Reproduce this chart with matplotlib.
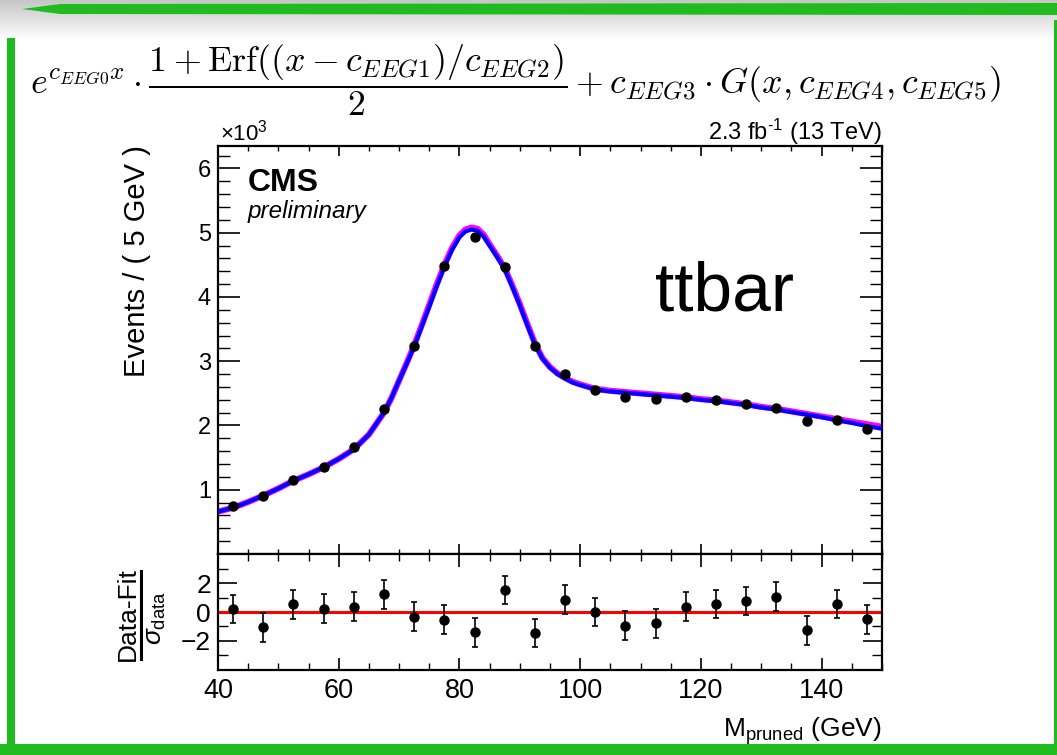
import numpy as np
import matplotlib
matplotlib.use("Agg")
import matplotlib.pyplot as plt
from matplotlib.ticker import MultipleLocator, FixedLocator

# ---------------- data ----------------
bin_centers = [42.5, 47.5, 52.5, 57.5, 62.5, 67.5, 72.5, 77.5, 82.5, 87.5, 92.5,
               97.5, 102.5, 107.5, 112.5, 117.5, 122.5, 127.5, 132.5, 137.5, 142.5, 147.5]
events_k = [0.74, 0.895, 1.15, 1.36, 1.66, 2.25, 3.23, 4.48, 4.93, 4.46, 3.24,
            2.80, 2.55, 2.45, 2.42, 2.44, 2.39, 2.34, 2.27, 2.07, 2.09, 1.95]

fit_x = [40.0, 42.5, 45.0, 47.5, 50.0, 52.5, 55.0, 57.5, 60.0, 62.5, 65.0, 67.5,
         68.75, 70.0, 71.25, 72.5, 73.75, 75.0, 76.25, 77.5, 78.75, 80.0, 81.0,
         82.0, 83.0, 84.0, 85.0, 86.25, 87.5, 88.75, 90.0, 91.25, 92.5, 93.75,
         95.0, 96.25, 97.5, 98.75, 100.0, 102.5, 105.0, 107.5, 110.0, 112.5,
         115.0, 117.5, 120.0, 122.5, 125.0, 127.5, 130.0, 132.5, 135.0, 137.5,
         140.0, 142.5, 145.0, 147.5, 150.0]
fit_blue_k = [0.66, 0.72, 0.81, 0.91, 1.02, 1.14, 1.24, 1.35, 1.48, 1.63, 1.86, 2.20,
              2.43, 2.70, 2.96, 3.23, 3.54, 3.85, 4.17, 4.47, 4.73, 4.93, 5.02,
              5.05, 5.03, 4.94, 4.80, 4.62, 4.43, 4.16, 3.87, 3.56, 3.26, 3.04,
              2.90, 2.80, 2.73, 2.67, 2.63, 2.56, 2.53, 2.51, 2.49, 2.47,
              2.45, 2.43, 2.40, 2.38, 2.35, 2.32, 2.28, 2.25, 2.21, 2.17,
              2.13, 2.08, 2.04, 1.99, 1.95]
fit_magenta_k = [0.66, 0.72, 0.81, 0.91, 1.02, 1.14, 1.24, 1.35, 1.48, 1.63, 1.86, 2.20,
                 2.43, 2.70, 2.97, 3.25, 3.56, 3.88, 4.20, 4.50, 4.76, 4.96, 5.05,
                 5.08, 5.06, 4.97, 4.82, 4.64, 4.45, 4.18, 3.89, 3.58, 3.28, 3.05,
                 2.91, 2.81, 2.74, 2.68, 2.64, 2.57, 2.54, 2.52, 2.50, 2.48,
                 2.46, 2.44, 2.41, 2.39, 2.36, 2.33, 2.29, 2.26, 2.22, 2.18,
                 2.14, 2.10, 2.06, 2.02, 1.98]

pulls = [0.21, -1.07, 0.53, 0.23, 0.37, 1.23, -0.33, -0.53, -1.42, 1.53, -1.47,
         0.86, 0.00, -0.95, -0.79, 0.37, 0.56, 0.77, 1.07, -1.28, 0.56, -0.51]
pull_err = [1.0] * len(pulls)

x_major_ticks = [40, 60, 80, 100, 120, 140]
y_main_ticks = [1, 2, 3, 4, 5, 6]
y_pull_ticks = [-2, 0, 2]

# ---------------- style ----------------
FONT = "Liberation Sans"
plt.rcParams['font.family'] = [FONT, 'DejaVu Sans']
plt.rcParams['mathtext.fontset'] = 'custom'
plt.rcParams['mathtext.rm'] = FONT
plt.rcParams['mathtext.it'] = FONT + ':italic'
plt.rcParams['mathtext.bf'] = FONT + ':bold'
plt.rcParams['mathtext.sf'] = FONT

W, H = 1057, 755
fig = plt.figure(figsize=(W / 100, H / 100), dpi=100)
fig.patch.set_facecolor('white')

def fx(px):
    return px / W

def fy(py):
    return 1 - py / H

# background decoration (slide frame)
bg = fig.add_axes([0, 0, 1, 1], zorder=-10)
bg.set_xlim(0, W)
bg.set_ylim(H, 0)
bg.axis('off')
grad = np.linspace(0.72, 1.0, 40).reshape(-1, 1)
bg.imshow(np.repeat(grad, 2, axis=1), cmap='gray', vmin=0, vmax=1,
          extent=[0, W, 40, 0], aspect='auto', alpha=0.8)
green = '#1fbb1f'
bg.fill([22, 60, W, W, 60], [9, 4, 3, 15, 14], color=green, lw=0)
bg.add_patch(plt.Rectangle((7, 38), 8, H - 38, color=green, lw=0))
bg.add_patch(plt.Rectangle((0, 744), W, 11, color=green, lw=0))
bg.add_patch(plt.Rectangle((1054, 20), 3, H - 20, color=green, lw=0))
bg.add_patch(plt.Rectangle((15, 40), 1039, 704, color='white', lw=0))

# axes geometry
L, R = 218, 882
T, MB, PB = 146, 554, 670
ax = fig.add_axes([fx(L), fy(MB), fx(R - L), fy(T) - fy(MB)])
axr = fig.add_axes([fx(L), fy(PB), fx(R - L), fy(MB) - fy(PB)], sharex=ax)

# main
ax.plot(fit_x, fit_magenta_k, color='#ff00ff', lw=4.4, zorder=2, solid_capstyle='butt')
ax.plot(fit_x, fit_blue_k, color='#0000ff', lw=3.0, zorder=3, solid_capstyle='butt')
ax.plot(bin_centers, events_k, 'o', color='black', ms=6.5, zorder=4)
ax.set_xlim(40, 150)
ax.set_ylim(0, 6.35)
ax.yaxis.set_major_locator(FixedLocator(y_main_ticks))
ax.yaxis.set_minor_locator(MultipleLocator(0.2))
ax.xaxis.set_major_locator(FixedLocator(x_major_ticks))
ax.xaxis.set_minor_locator(MultipleLocator(5))
ax.tick_params(axis='both', which='both', direction='in', top=True, right=True)
ax.tick_params(axis='y', which='major', length=16, width=1.2, labelsize=17, pad=5)
ax.tick_params(axis='y', which='minor', length=8.5, width=1.0)
ax.tick_params(axis='x', which='major', length=7, width=1.2, labelbottom=False)
ax.tick_params(axis='x', which='minor', length=3.5, width=1.0)
for s in ax.spines.values():
    s.set_linewidth(1.6)

# pulls
axr.axhline(0, color='#ff0000', lw=2.2, zorder=2)
axr.errorbar(bin_centers, pulls, yerr=pull_err, fmt='o', color='black', ms=6.5,
             elinewidth=1.2, capsize=2.5, capthick=1.2, zorder=3)
axr.set_ylim(-4.05, 4.05)
axr.yaxis.set_major_locator(FixedLocator(y_pull_ticks))
axr.yaxis.set_minor_locator(FixedLocator([-3, -1, 1, 3]))
axr.tick_params(axis='both', which='both', direction='in', top=True, right=True)
axr.tick_params(axis='y', which='major', length=14, width=1.2, labelsize=19, pad=5)
axr.tick_params(axis='y', which='minor', length=7, width=1.0)
axr.tick_params(axis='x', which='major', length=9, width=1.2, labelsize=19.5, pad=6)
axr.tick_params(axis='x', which='minor', length=5, width=1.0)
axr.set_xticks(x_major_ticks)
axr.set_xticklabels([str(v) for v in x_major_ticks])
for s in axr.spines.values():
    s.set_linewidth(1.6)

# texts
fig.text(fx(L + 2), fy(141), r'$\times$10$^{3}$', fontsize=16, ha='left', va='baseline')
fig.text(fx(R), fy(140), r'2.3 fb$^{\mathregular{\text{-}1}}$ (13 TeV)', fontsize=17,
         ha='right', va='baseline')
fig.text(fx(248), fy(191), 'CMS', fontsize=23, fontweight='bold', ha='left', va='baseline')
fig.text(fx(248), fy(218), 'preliminary', fontsize=17.5, fontstyle='italic',
         ha='left', va='baseline')
fig.text(fx(655), fy(311), 'ttbar', fontsize=50, ha='left', va='baseline')
fig.text(fx(137), fy(T - 1), 'Events / ( 5 GeV )', fontsize=21, rotation=90,
         ha='center', va='top')
fig.text(fx(R), fy(737), r'M$_{\mathregular{pruned}}$ (GeV)', fontsize=19,
         ha='right', va='baseline')

# ratio y title as fraction
fig.text(fx(128), fy(614), 'Data-Fit', fontsize=19, rotation=90, ha='center', va='center')
bg.plot([141, 141], [571, 659], color='black', lw=2.2)
fig.text(fx(156), fy(618), r'$\sigma_{\mathregular{data}}$', fontsize=19, rotation=90,
         ha='center', va='center')

# formula
fig.text(fx(30), fy(80),
         r'$e^{c_{EEG0}x}\cdot\dfrac{1+\mathrm{Erf}((x-c_{EEG1})/c_{EEG2})}{2}'
         r'+c_{EEG3}\cdot G(x,c_{EEG4},c_{EEG5})$',
         fontsize=25.8, ha='left', va='center', math_fontfamily='cm')

fig.savefig('out.png', dpi=100)
